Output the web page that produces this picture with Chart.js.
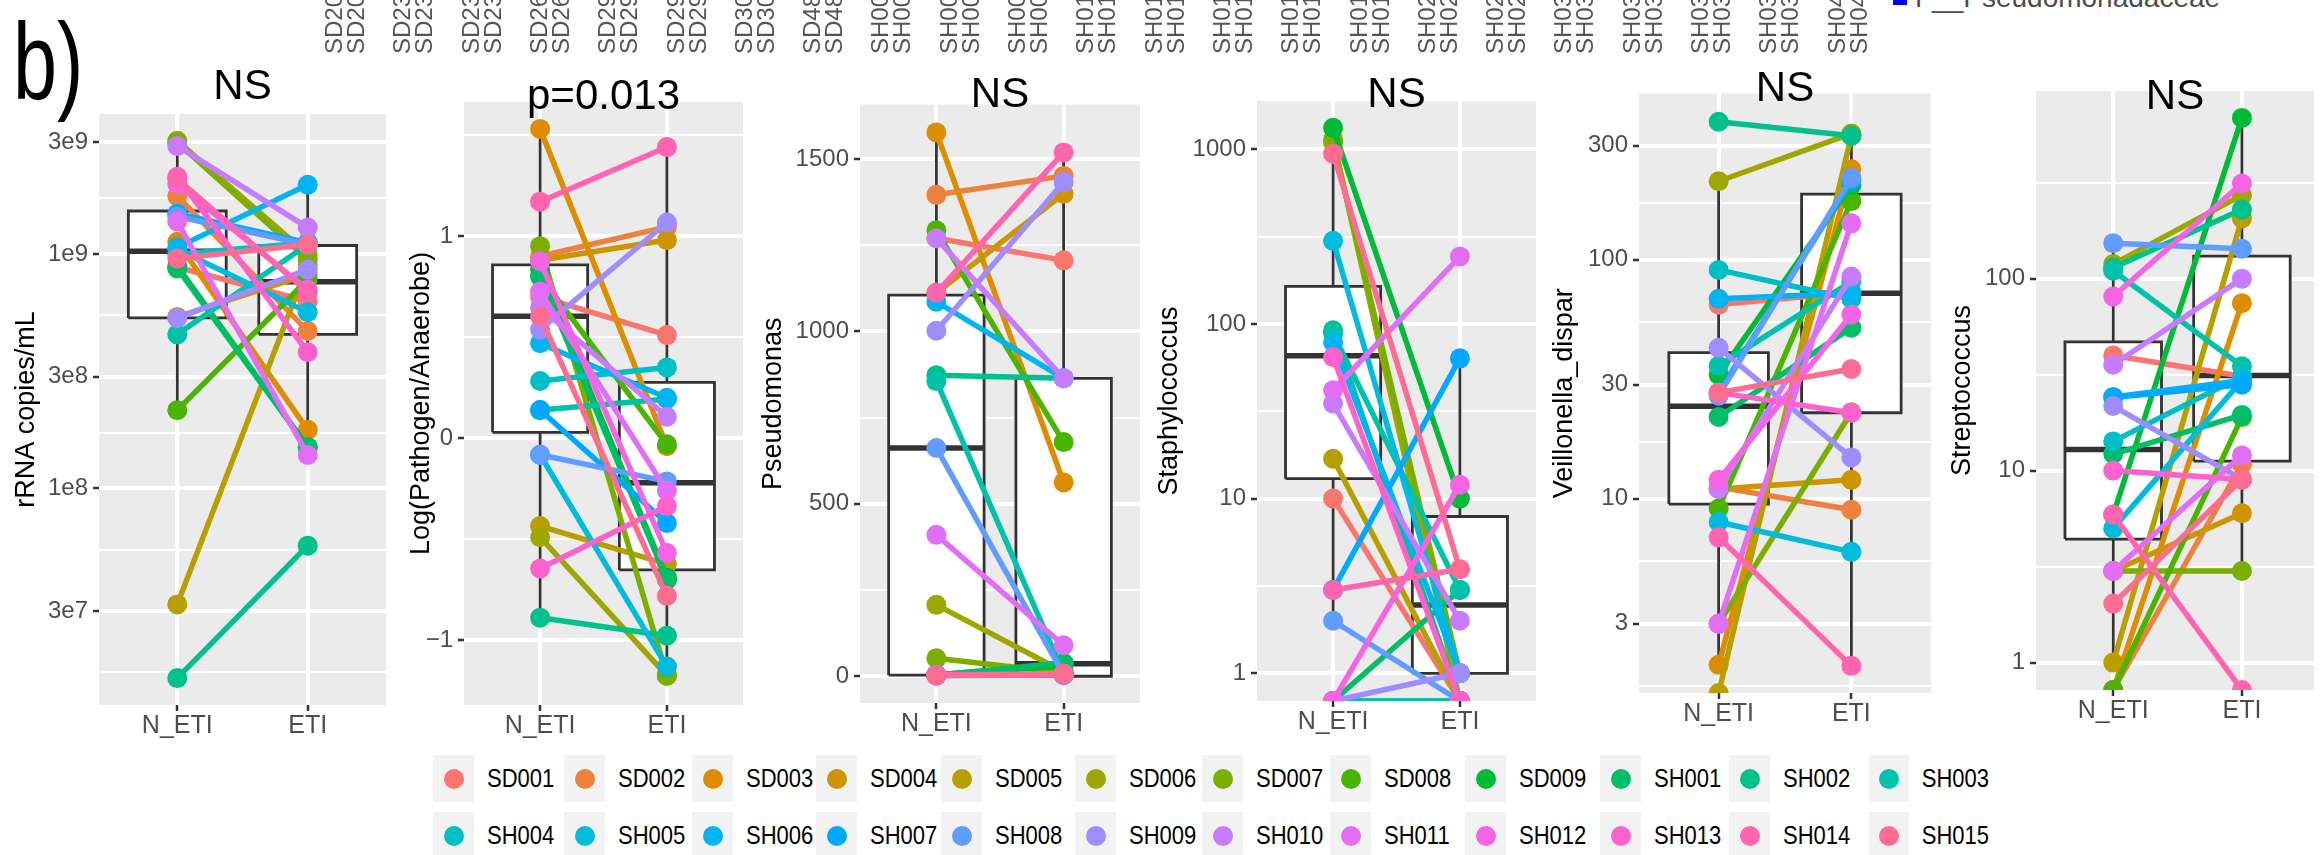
<!DOCTYPE html>
<html>
<head>
<meta charset="utf-8">
<script src="https://cdn.jsdelivr.net/npm/chart.js@4.4.0/dist/chart.umd.min.js"></script>
<style>
  html, body { margin: 0; padding: 0; background: #fff; }
  body { width: 2324px; height: 855px; overflow: hidden; position: relative;
         font-family: 'Liberation Sans', Arial, sans-serif; }
  canvas { position: absolute; top: 0; }
  .tag { position: absolute; left: 13px; top: 6px; font-size: 110px; line-height: 110px;
         transform: scaleX(0.72); transform-origin: 0 0; color: #000; }
  .cut { position: absolute; top: 54px; transform: rotate(-90deg); transform-origin: 0 0;
         font-size: 24px; line-height: 22px; color: #555; white-space: nowrap; }
  .famkey { position: absolute; left: 1893px; top: 0; width: 14px; height: 5px; background: #0000ff; }
  .famtxt { position: absolute; left: 1915px; top: -16px; font-size: 28px; line-height: 28px;
            color: #4d4d4d; white-space: nowrap; }
  #legend { position: absolute; left: 433px; top: 755px; display: grid;
            grid-template-columns: 131px 128px 124px 125px 134px 127px 128px 135px 135px 129px 140px 120px;
            row-gap: 10px; }
  .item { display: flex; align-items: center; }
  .key { width: 41px; height: 47px; background: #f2f2f2; display: flex;
         align-items: center; justify-content: center; }
  .dot { width: 20px; height: 20px; border-radius: 50%; }
  .lab { display: inline-block; margin-left: 13px; font-size: 22px; line-height: 47px; color: #000;
         transform: scaleY(1.15); white-space: nowrap; }
</style>
</head>
<body>
<div class="tag">b)</div>
<div class="famkey"></div>
<div class="famtxt">F__Pseudomonadaceae</div>
<div id="legend"></div>

<script>
// subjects and groups
const subjects = ['SD001','SD002','SD003','SD004','SD005','SD006','SD007','SD008','SD009',
  'SH001','SH002','SH003','SH004','SH005','SH006','SH007','SH008','SH009','SH010',
  'SH011','SH012','SH013','SH014','SH015'];
const groups = ['N_ETI', 'ETI'];

// cut-off sample labels along the top edge
const cutLabels = ['SD20','SD23','SD23','SD26','SD29','SD29','SD30','SD48','SH00','SH00','SH00',
  'SH01','SH01','SH01','SH01','SH01','SH02','SH02','SH03','SH03','SH03','SH03','SH04'];

// rRNA copies/mL  (order = subjects)
const rrnaN = [8.8e8,1.77e9,1.13e9,5.4e8,3.2e7,3.05e9,3.0e9,2.16e8,8.9e8,8.7e8,1.55e7,4.55e8,
  1.0e9,1.05e9,1.07e9,1.49e9,1.45e9,5.35e8,2.9e9,1.38e9,2.0e9,2.14e9,2.1e9,9.6e8];
const rrnaE = [6.3e8,4.7e8,1.78e8,8.2e8,9.0e8,1.0e9,9.5e8,7.8e8,1.5e8,1.5e8,5.7e7,1.1e9,
  1.12e9,5.66e8,1.98e9,1.12e9,1.1e9,8.6e8,1.3e9,1.39e8,7.05e8,3.82e8,6.9e8,1.1e9];
const rrnaBoxN = [2.16e8, 5.35e8, 1.03e9, 1.53e9, 3.05e9];   // min, q1, median, q3, max
const rrnaBoxE = [1.5e8, 4.55e8, 7.64e8, 1.09e9, 1.98e9];
const rrnaTicks = [3e7, 1e8, 3e8, 1e9, 3e9];
const rrnaLabels = ['3e7', '1e8', '3e8', '1e9', '3e9'];
const rrnaMinor = [1.64e7, 5.48e7, 1.73e8, 5.48e8, 1.73e9];

// Log(Pathogen/Anaerobe)
const ratioN = [0.70,0.90,1.53,0.88,-0.435,-0.49,0.95,0.80,0.835,0.80,-0.888,0.139,0.283,-0.082,
  0.47,0.139,-0.082,0.537,0.647,0.725,0.875,-0.645,1.17,0.603];
const ratioE = [0.51,1.045,-0.04,0.98,-0.623,-1.175,-1.175,-0.03,-0.69,-0.70,-0.977,0.194,0.35,
  -1.13,0.2,-0.42,-0.214,1.067,0.106,-0.26,-0.568,-0.336,1.44,-0.78];
const ratioBoxN = [-0.888, 0.029, 0.603, 0.857, 1.53];
const ratioBoxE = [-1.176, -0.652, -0.221, 0.276, 1.443];
const ratioTicks = [-1, 0, 1];
const ratioLabels = ['\u22121', '0', '1'];
const ratioMinor = [-0.5, 0.5, 1.5];

// Pseudomonas
const pseuN = [1270,1396,1577,1112,3,207,52,1293,5,3,873,856,3,2,1086,4,662,1002,1270,410,5,2,1112,2];
const pseuE = [1206,1451,562,1399,5,13,10,679,30,39,864,8,4,3,864,6,5,1433,864,90,4,5,1519,8];
const pseuBoxN = [0, 3, 662, 1105, 1577];
const pseuBoxE = [0, 0, 36, 864, 1519];
const pseuTicks = [0, 500, 1000, 1500];
const pseuLabels = ['0', '500', '1000', '1500'];
const pseuMinor = [250, 750, 1250];

// Staphylococcus (0 = drawn on the lower panel edge)
const staphN = [10,0,0,0,16.9,1138,1100,0,1326,0,92,88,0,299,78.5,3,2,0,35,41.7,0,64.6,3,943];
const staphE = [0,0,0,0,0,0,1,0,10,3,0,3,0,1,1,63.5,0,1,2,243,12,0,3.94,3.94];
const staphBoxN = [2, 13, 65.8, 164, 1326];
const staphBoxE = [1, 1, 2.46, 7.9, 63.5];
const staphTicks = [1, 10, 100, 1000];
const staphLabels = ['1', '10', '100', '1000'];
const staphMinor = [3.16, 31.6, 316];

// Veillonella_dispar
const veilN = [64.9,11.2,2.02,11,0,213,3,9.1,33,22,378,36,90.7,8,68.6,27.8,27,42.8,11,3,12,27.8,6.9,27.8];
const veilE = [73,9,239,12,330,337,23,176,205,52,330,81,68.5,6,72.5,214,220,14.9,85,142,59,22.9,2,34.9];
const veilBoxN = [2.02, 9.5, 24.4, 40.9, 213];
const veilBoxE = [2, 22.9, 72.5, 188, 337];
const veilTicks = [3, 10, 30, 100, 300];
const veilLabels = ['3', '10', '30', '100', '300'];
const veilMinor = [1.64, 5.48, 17.3, 54.8, 173];

// Streptococcus
const strepN = [39.8,0,0,3,1,119,3,0,5.9,12.2,114,110,14.2,5,24.2,24,153,21.7,35.6,3,80.7,10,5.9,2.03];
const strepE = [31,10.8,74.5,6,206,272,3,19,687,19.5,229,35,31,29.5,29.5,28,143,9,100,12,313,9,0,9];
const strepBoxN = [1, 4.4, 12.9, 46.8, 153];
const strepBoxE = [3, 11.2, 31.3, 131, 687];
const strepTicks = [1, 10, 100];
const strepLabels = ['1', '10', '100'];
const strepMinor = [3.16, 31.6, 316];

const FONT = "'Liberation Sans', Arial, sans-serif";
const H = 745;

// ggplot2 default hue palette, hcl(h, c = 100, l = 65)
function hcl(h, c, l) {
  const WX = 95.047, WY = 100, WZ = 108.883;
  const den = WX + 15 * WY + 3 * WZ, un = 4 * WX / den, vn = 9 * WY / den;
  const hr = h * Math.PI / 180, U = c * Math.cos(hr), V = c * Math.sin(hr);
  const Y = WY * (l > 7.999592 ? Math.pow((l + 16) / 116, 3) : l / 903.3);
  const u = U / (13 * l) + un, v = V / (13 * l) + vn;
  const X = 9 * Y * u / (4 * v), Z = -X / 3 - 5 * Y + 3 * Y / v;
  const g = t => {
    t = t / 100;
    t = t > 0.00304 ? 1.055 * Math.pow(t, 1 / 2.4) - 0.055 : 12.92 * t;
    return Math.round(255 * Math.min(1, Math.max(0, t)));
  };
  return 'rgb(' + g(3.240479 * X - 1.537150 * Y - 0.498535 * Z) + ',' +
    g(-0.969256 * X + 1.875992 * Y + 0.041556 * Z) + ',' +
    g(0.055648 * X - 0.204043 * Y + 1.057311 * Z) + ')';
}
const colors = subjects.map((s, i) => hcl(15 + 15 * i, 100, 65));

const panels = [
  {title: 'NS', yTitle: 'rRNA copies/mL', type: 'logarithmic', N: rrnaN, E: rrnaE,
   boxN: rrnaBoxN, boxE: rrnaBoxE, ticks: rrnaTicks, labels: rrnaLabels, minor: rrnaMinor, min: 1.19e7, max: 3.97e9},
  {title: 'p=0.013', yTitle: 'Log(Pathogen/Anaerobe)', type: 'linear', N: ratioN, E: ratioE,
   boxN: ratioBoxN, boxE: ratioBoxE, ticks: ratioTicks, labels: ratioLabels, minor: ratioMinor, min: -1.32, max: 1.663},
  {title: 'NS', yTitle: 'Pseudomonas', type: 'linear', N: pseuN, E: pseuE,
   boxN: pseuBoxN, boxE: pseuBoxE, ticks: pseuTicks, labels: pseuLabels, minor: pseuMinor, min: -77.6, max: 1657.7},
  {title: 'NS', yTitle: 'Staphylococcus', type: 'logarithmic', N: staphN, E: staphE,
   boxN: staphBoxN, boxE: staphBoxE, ticks: staphTicks, labels: staphLabels, minor: staphMinor, min: 0.694, max: 1888},
  {title: 'NS', yTitle: 'Veillonella_dispar', type: 'logarithmic', N: veilN, E: veilE,
   boxN: veilBoxN, boxE: veilBoxE, ticks: veilTicks, labels: veilLabels, minor: veilMinor, min: 1.54, max: 496},
  {title: 'NS', yTitle: 'Streptococcus', type: 'logarithmic', N: strepN, E: strepE,
   boxN: strepBoxN, boxE: strepBoxE, ticks: strepTicks, labels: strepLabels, minor: strepMinor, min: 0.72, max: 949}
];

// where each panel sits on the page
const frames = [
  {left: 0,    areaL: 99,   areaR: 392,  top: 114,   bottom: 705, titleC: 87.5, yTitleC: 27,   xmax: 2.6},
  {left: 395,  areaL: 464,  areaR: 749,  top: 102,   bottom: 705, titleC: 97,   yTitleC: 422,  xmax: 2.6},
  {left: 745,  areaL: 860,  areaR: 1146, top: 104.6, bottom: 703, titleC: 95.5, yTitleC: 774,  xmax: 2.6},
  {left: 1142, areaL: 1257, areaR: 1542, top: 101,   bottom: 701, titleC: 95.5, yTitleC: 1170, xmax: 2.6},
  {left: 1537, areaL: 1639, areaR: 1937, top: 93.5,  bottom: 693, titleC: 89,   yTitleC: 1565, xmax: 2.6},
  {left: 1935, areaL: 2036, areaR: 2324, top: 91,    bottom: 690, titleC: 97,   yTitleC: 1963, xmax: 2.56}
];

const panelBg = {
  id: 'panelBg',
  beforeDraw(chart) {
    const a = chart.chartArea, ctx = chart.ctx;
    ctx.save();
    ctx.fillStyle = '#ebebeb';
    ctx.fillRect(a.left, a.top, a.right - a.left, a.bottom - a.top);
    ctx.restore();
  }
};

function boxParts(b, c) {
  const hw = 0.375, line = {showLine: true, pointRadius: 0, borderColor: '#333333', borderWidth: 2.8};
  return [
    Object.assign({}, line, {data: [{x: c, y: b[3]}, {x: c, y: b[4]}], order: 103}),
    Object.assign({}, line, {data: [{x: c, y: b[0]}, {x: c, y: b[1]}], order: 103}),
    Object.assign({}, line, {data: [{x: c - hw, y: b[1]}, {x: c + hw, y: b[1]}, {x: c + hw, y: b[3]},
      {x: c - hw, y: b[3]}, {x: c - hw, y: b[1]}], fill: 'shape', backgroundColor: '#ffffff',
      borderJoinStyle: 'miter', order: 102}),
    Object.assign({}, line, {data: [{x: c - hw, y: b[2]}, {x: c + hw, y: b[2]}], borderWidth: 5.5, order: 101})
  ];
}

panels.forEach((p, k) => {
  const f = frames[k];
  const right = Math.min(f.areaR + 4, 2324);
  const cv = document.createElement('canvas');
  cv.width = right - f.left;
  cv.height = H;
  cv.style.left = f.left + 'px';
  document.body.appendChild(cv);

  // zero counts on a log axis sit on the lower panel edge, as in ggplot
  const floor = v => (p.type === 'logarithmic' && v <= 0) ? p.min : v;
  const datasets = subjects.map((s, i) => ({
    label: s,
    data: [{x: 1, y: floor(p.N[i])}, {x: 2, y: floor(p.E[i])}],
    showLine: true,
    borderColor: colors[i],
    backgroundColor: colors[i],
    borderWidth: 5.5,
    pointRadius: 10,
    pointBorderWidth: 0,
    order: subjects.length - 1 - i
  }));
  datasets.push(...boxParts(p.boxN, 1), ...boxParts(p.boxE, 2));

  const isMajor = v => p.ticks.indexOf(v) >= 0;
  const padTop = f.titleC - 21;

  new Chart(cv, {
    type: 'scatter',
    data: {datasets},
    plugins: [panelBg],
    options: {
      responsive: false,
      animation: false,
      devicePixelRatio: 1,
      events: [],
      layout: {padding: {left: 0, right: right - f.areaR, top: 0, bottom: 0}},
      plugins: {
        legend: {display: false},
        tooltip: {enabled: false},
        title: {
          display: true, text: p.title, fullSize: false, color: '#000',
          font: {family: FONT, size: 42, weight: 'normal', lineHeight: 1},
          padding: {top: padTop, bottom: f.top - 42 - padTop}
        }
      },
      scales: {
        x: {
          type: 'linear', min: 0.4, max: f.xmax, bounds: 'data',
          afterBuildTicks: s => { s.ticks = [{value: 1}, {value: 2}]; },
          afterFit: s => { s.height = H - f.bottom; },
          ticks: {callback: v => groups[v - 1], color: '#4d4d4d', padding: 3, autoSkip: false,
                  maxRotation: 0, font: {family: FONT, size: 25, lineHeight: 1}},
          grid: {color: '#ffffff', lineWidth: 4, tickColor: '#333333', tickLength: 6, tickWidth: 2.5},
          border: {display: false}
        },
        y: {
          type: p.type, min: p.min, max: p.max, bounds: 'data',
          afterBuildTicks: s => {
            s.ticks = p.ticks.concat(p.minor).sort((a, b) => a - b).map(v => ({value: v}));
          },
          afterFit: s => { s.width = f.areaL - f.left; },
          ticks: {callback: v => isMajor(v) ? p.labels[p.ticks.indexOf(v)] : '', color: '#4d4d4d',
                  padding: 5, autoSkip: false, font: {family: FONT, size: 24, lineHeight: 1}},
          grid: {
            color: '#ffffff',
            lineWidth: c => (c.tick && isMajor(c.tick.value)) ? 4 : 2,
            tickColor: c => (c.tick && isMajor(c.tick.value)) ? '#333333' : 'rgba(0,0,0,0)',
            tickLength: 6, tickWidth: 2.5
          },
          border: {display: false},
          title: {display: true, text: p.yTitle, color: '#000',
                  font: {family: FONT, size: 27, lineHeight: 1},
                  padding: {top: f.yTitleC - f.left - 13.5, bottom: 0}}
        }
      }
    }
  });
});

// cut-off labels at the top
cutLabels.forEach((t, i) => {
  const d = document.createElement('div');
  d.className = 'cut';
  d.style.left = (346 + i * 68.3 - 23) + 'px';
  d.innerHTML = t + '<br>' + t;
  document.body.appendChild(d);
});

// legend
const lg = document.getElementById('legend');
subjects.forEach((s, i) => {
  const it = document.createElement('div');
  it.className = 'item';
  it.innerHTML = '<div class="key"><div class="dot" style="background:' + colors[i] + '"></div></div>' +
    '<span class="lab">' + s + '</span>';
  lg.appendChild(it);
});
</script>
</body>
</html>
